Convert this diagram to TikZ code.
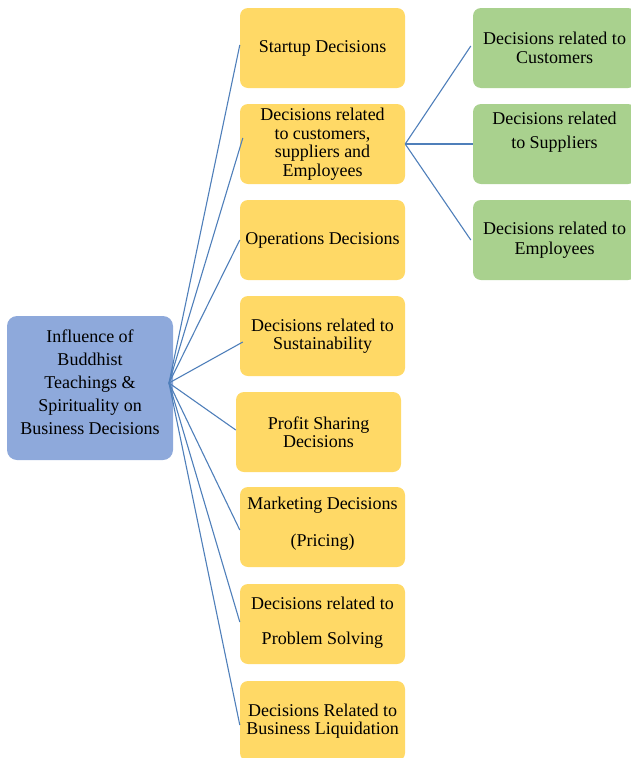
\documentclass[tikz,border=0pt]{standalone}
\usepackage{fontspec}
\setmainfont{Liberation Serif}
\definecolor{rootblue}{HTML}{8EA9DB}
\definecolor{boxyellow}{HTML}{FFD966}
\definecolor{boxgreen}{HTML}{A9D18E}
\definecolor{linkblue}{HTML}{4F7FBA}
\begin{document}
\begin{tikzpicture}[x=1pt, y=-1pt, every text node part/.style={align=center},
    rootbox/.style={fill=rootblue, rounded corners=10pt, minimum width=166pt, minimum height=144pt, inner sep=2pt},
    ybox/.style={fill=boxyellow, rounded corners=8pt, minimum width=165pt, minimum height=80pt, inner sep=2pt, font=\fontsize{18}{18.5}\selectfont},
    gbox/.style={fill=boxgreen, rounded corners=8pt, minimum width=163pt, minimum height=80pt, inner sep=2pt, font=\fontsize{18}{19.5}\selectfont},
    link/.style={draw=linkblue, line width=1.1pt}]
        \clip (0, 0) rectangle (631, 758);

        \node(root) at (90, 388)[rootbox]{};
        \node at (90, 382)[font=\fontsize{18}{23}\selectfont]{Influence of\\Buddhist\\Teachings \&\\Spirituality on\\Business Decisions};
        \coordinate(hub) at (169, 383);

        \node(startup) at (322.5, 48)[ybox]{Startup Decisions};
        \node(stake) at (322.5, 144)[ybox]{Decisions related\\to customers,\\suppliers and\\Employees};
        \node(operations) at (322.5, 240)[ybox]{Operations Decisions};
        \node(sustain) at (322.5, 336)[ybox]{Decisions related to\\Sustainability};
        \node(profit) at (318.5, 432)[ybox]{Profit Sharing\\Decisions};
        \node(marketing) at (322.5, 527)[ybox]{};
        \node at (322.5, 524)[font=\fontsize{18}{37}\selectfont]{Marketing Decisions\\(Pricing)};
        \node(problem) at (322.5, 624)[ybox]{};
        \node at (322.5, 623)[font=\fontsize{18}{35}\selectfont]{Decisions related to\\Problem Solving};
        \node(liquid) at (322.5, 721)[ybox]{Decisions Related to\\Business Liquidation};

        \node(customers) at (554.5, 48)[gbox]{Decisions related to\\Customers};
        \node(suppliers) at (554.5, 144)[gbox]{};
        \node at (554.5, 132)[font=\fontsize{18}{24}\selectfont]{Decisions related\\to Suppliers};
        \node(employees) at (554.5, 240)[gbox]{Decisions related to\\Employees};

        \draw[link] (hub) -- ([yshift=3pt]startup.west);
        \draw[link] (hub) -- ([xshift=3pt, yshift=6pt]stake.west);
        \draw[link] (hub) -- (operations.west);
        \draw[link] (hub) -- ([xshift=3pt, yshift=-6pt]sustain.west);
        \draw[link] (hub) -- ([yshift=2pt]profit.west);
        \draw[link] (hub) -- ([yshift=-3pt]marketing.west);
        \draw[link] (hub) -- ([yshift=2pt]problem.west);
        \draw[link] (hub) -- ([yshift=-4pt]liquid.west);

        \draw[link] (stake.east) -- ([xshift=-2pt, yshift=2pt]customers.west);
        \draw[link] (stake.east) -- (suppliers.west);
        \draw[link] (stake.east) -- ([xshift=-2pt]employees.west);
    \end{tikzpicture}
\end{document}
